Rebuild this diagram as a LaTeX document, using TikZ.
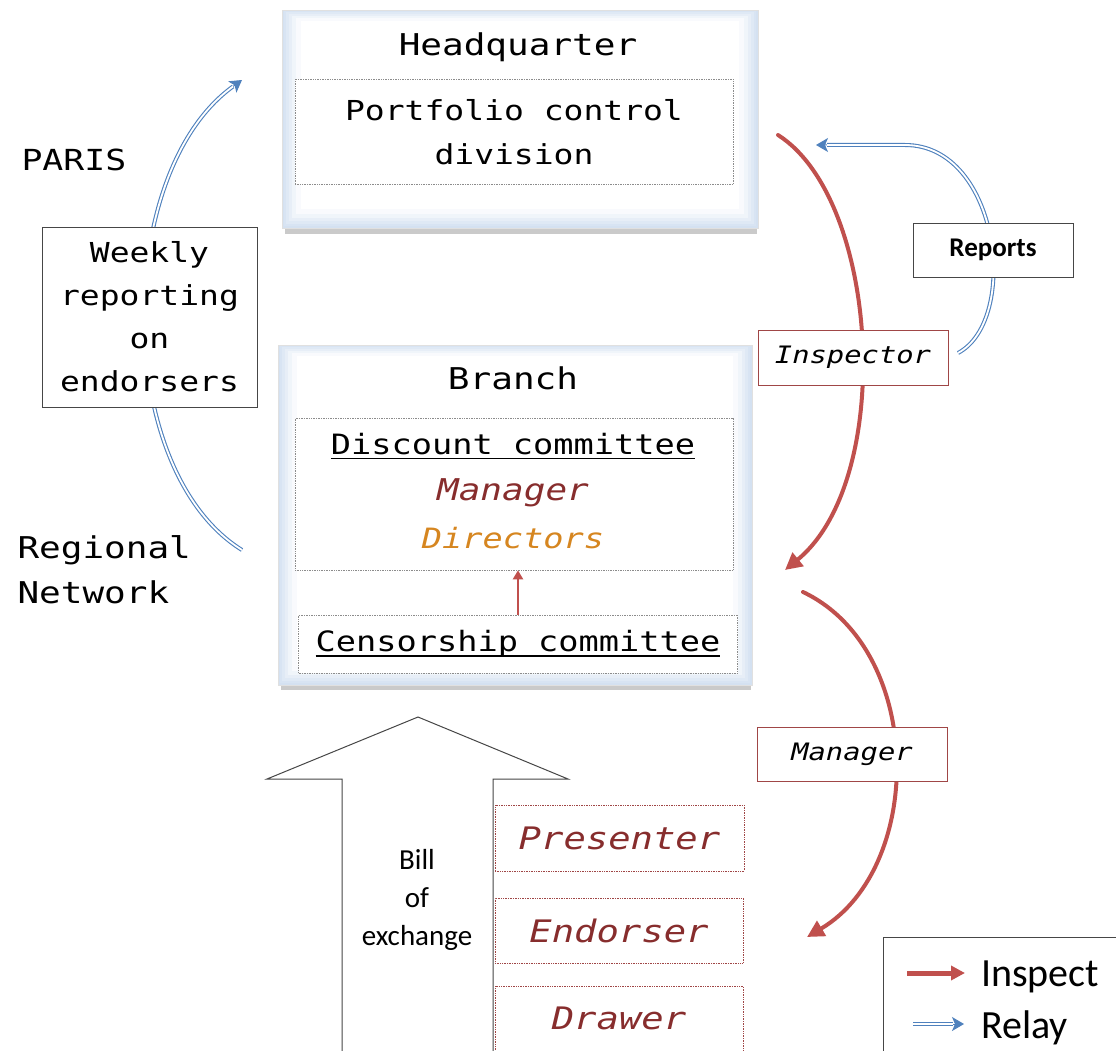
\documentclass[tikz,border=0pt]{standalone}
\usepackage{fontspec}
\newfontfamily\cmono{DejaVu Sans Mono}[FakeStretch=1.2]
\newfontfamily\calib{Carlito}
\usetikzlibrary{arrows.meta}
\definecolor{inspred}{RGB}{192,80,77}
\definecolor{relayblue}{RGB}{79,129,189}
\definecolor{darkred}{RGB}{135,45,45}
\definecolor{dirorange}{RGB}{214,134,32}
\definecolor{glow}{RGB}{212,225,241}
\definecolor{lblred}{RGB}{160,70,70}
\definecolor{edge}{RGB}{70,70,70}
\newcommand\mf[2]{\cmono\fontsize{#1}{#2}\selectfont}
\newcommand\cf[2]{\calib\fontsize{#1}{#2}\selectfont}
\newcommand\myul[1]{\setbox0\hbox{#1}\leavevmode\rlap{\rule[-5pt]{\wd0}{1.6pt}}\box0}
\begin{document}
\begin{tikzpicture}[x=1pt,y=-1pt,
  outerbox/.style={rectangle, inner sep=0pt, draw=black!12, fill=glow},
  innerbox/.style={rectangle, draw=black!45, densely dotted, line width=0.7pt, fill=white, inner sep=0pt},
  plainbox/.style={rectangle, draw=edge, line width=0.9pt, fill=white, inner sep=0pt},
  lblbox/.style={rectangle, draw=lblred, line width=0.9pt, fill=white, inner sep=0pt},
  personbox/.style={rectangle, draw=lblred, densely dotted, line width=0.7pt, fill=white, inner sep=0pt},
  inspect/.style={draw=inspred, line width=4pt, line cap=round, -{Triangle[length=17pt,width=17pt]}},
  relaytip/.style={draw=relayblue, line width=1pt, -{Stealth[length=12pt,width=14pt,inset=3pt,fill=relayblue]}},
  relayline/.style={draw=relayblue, line width=1.1pt, double=white, double distance=1.8pt, shorten >=11pt},
]
\useasboundingbox (0,0) rectangle (1116,1051);

% ---------- Headquarter ----------
\fill[black!35, opacity=0.6] (285,16) rectangle (757,234);
\node[outerbox, minimum width=476pt, minimum height=218pt] (hq) at (520,119) {};
\foreach \d/\k in {2/90,4/75,7/55,10/35,14/15,19/0}
  \fill[glow!\k!white] ([shift={(\d,\d*0.6)}]hq.north west) rectangle ([shift={(-\d,-\d)}]hq.south east);
\node[font=\mf{30}{36}] (hqt) at (518,47) {Headquarter};
\node[innerbox, minimum width=438pt, minimum height=105pt, align=center, font=\mf{27.5}{44}] (pcd) at (514,132) {Portfolio control\\division};

% ---------- Branch ----------
\fill[black!35, opacity=0.6] (281,351) rectangle (751,690);
\node[outerbox, minimum width=474pt, minimum height=340pt] (br) at (515,515) {};
\foreach \d/\k in {2/90,4/75,7/55,10/35,14/15,19/0}
  \fill[glow!\k!white] ([shift={(\d,\d*0.6)}]br.north west) rectangle ([shift={(-\d,-\d)}]br.south east);
\node[font=\mf{30}{36}] (brt) at (513,378) {Branch};
\node[innerbox, minimum width=438pt, minimum height=152pt] (disc) at (514,494) {};
\node[font=\mf{28}{34}] (disct) at (513,446) {\myul{Discount committee}};
\node[font=\mf{30}{36}\itshape, text=darkred] (mgr) at (513,493) {Manager};
\node[font=\mf{28}{34}\itshape, text=dirorange] (dir) at (513,538) {Directors};
\node[innerbox, minimum width=439pt, minimum height=58pt, font=\mf{28}{34}] (cens) at (518,644) {\myul{Censorship committee}};
\draw[draw=inspred, line width=2.5pt, -{Triangle[length=9pt,width=10pt]}] (cens.north) -- (cens.north |- disc.south);

% ---------- left side ----------
\node[anchor=west, font=\mf{29}{36}] (paris) at (18,160) {PARIS};
\node[anchor=west, align=left, font=\mf{30}{45}] (reg) at (14,570) {Regional\\Network};
\coordinate (relS) at (242,550);
\coordinate (relE) at (242,80);
\draw[relaytip] (relS) .. controls (113,470) and (113,173) .. (relE);
\draw[relayline] (relS) .. controls (113,470) and (113,173) .. (relE);
\node[plainbox, minimum width=215pt, minimum height=180pt, align=center, font=\mf{27.5}{43}] (weekly) at (149.5,317) {Weekly\\reporting\\on\\endorsers};

% ---------- right side ----------
\coordinate (insS) at (778,135);
\coordinate (insE) at (785,570);
\draw[inspect] (insS) .. controls (880,200) and (895,480) .. (insE);
\coordinate (repS) at (958,353);
\coordinate (repM) at (905,145);
\coordinate (repE) at (816,145);
\draw[relaytip] (repS) .. controls (1020,320) and (1000,145) .. (repM) -- (repE);
\draw[relayline] (repS) .. controls (1020,320) and (1000,145) .. (repM) -- (repE);
\node[plainbox, minimum width=160pt, minimum height=54pt, font=\cf{27}{32}\bfseries] (reports) at (993,250) {Reports};
\node[lblbox, minimum width=190pt, minimum height=55pt, font=\mf{24}{30}\itshape] (inspector) at (853,357.5) {Inspector};

\coordinate (mgrS) at (803,592);
\coordinate (mgrE) at (807,937);
\draw[inspect] (mgrS) .. controls (925,650) and (925,867) .. (mgrE);
\node[lblbox, minimum width=190pt, minimum height=54pt, font=\mf{24}{30}\itshape] (mgrlbl) at (852,754) {Manager};

% ---------- bill of exchange ----------
\coordinate (bt) at (418,717);
\coordinate (bhl) at (267,779);
\coordinate (bsl) at (342,779);
\coordinate (bbl) at (342,1065);
\coordinate (bbr) at (493,1065);
\coordinate (bsr) at (493,779);
\coordinate (bhr) at (568,779);
\draw[draw=edge, line width=1pt, fill=white] (bt) -- (bhl) -- (bsl) -- (bbl) -- (bbr) -- (bsr) -- (bhr) -- cycle;
\node[font=\cf{29}{38}, align=center] (bill) at (417,900) {Bill\\of\\exchange};

\node[personbox, minimum width=249pt, minimum height=66pt, font=\mf{31}{36}\itshape, text=darkred] (pres) at (619.5,838) {Presenter};
\node[personbox, minimum width=248pt, minimum height=65pt, font=\mf{31}{36}\itshape, text=darkred] (endo) at (619,930.5) {Endorser};
\node[personbox, minimum width=248pt, minimum height=80pt] (draw) at (619,1026) {};
\node[font=\mf{31}{36}\itshape, text=darkred] (drawt) at (619,1018) {Drawer};

% ---------- legend ----------
\node[plainbox, anchor=north west, minimum width=250pt, minimum height=130pt] (legend) at (883,937) {};
\coordinate (li1) at (907,973);
\coordinate (li2) at (965,973);
\coordinate (lr1) at (913,1024);
\coordinate (lr2) at (964,1024);
\draw[draw=inspred, line width=5pt, -{Triangle[length=14pt,width=14pt]}] (li1) -- (li2);
\draw[relaytip] (lr1) -- (lr2);
\draw[relayline] (lr1) -- (lr2);
\node[anchor=base west, font=\cf{40}{46}, inner sep=0pt] (linsp) at (981,986) {Inspect};
\node[anchor=base west, font=\cf{40}{46}, inner sep=0pt] (lrel) at (981,1038) {Relay};
\end{tikzpicture}
\end{document}
